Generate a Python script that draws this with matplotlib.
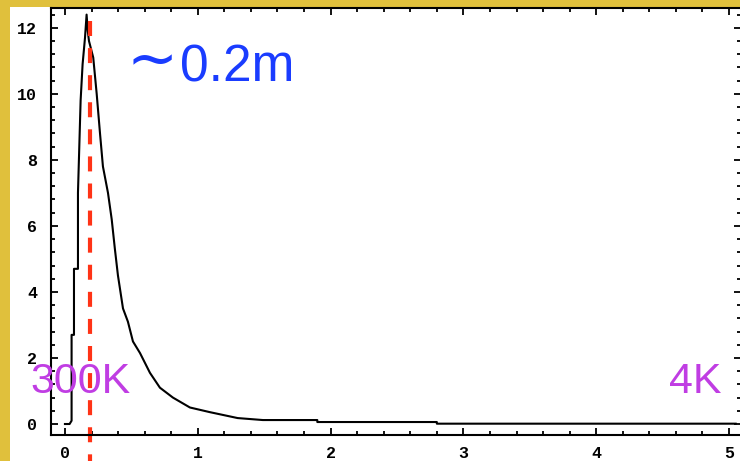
import matplotlib
matplotlib.use("Agg")
import matplotlib.pyplot as plt
from matplotlib.ticker import MultipleLocator

# curve (wavelength vs intensity)
wl = [0.0, 0.035, 0.05, 0.05, 0.068, 0.068, 0.098, 0.098, 0.118, 0.133, 0.151,
      0.163, 0.172, 0.181, 0.213, 0.239, 0.264, 0.286, 0.324, 0.352, 0.376,
      0.399, 0.437, 0.474, 0.512, 0.565, 0.640, 0.715, 0.813, 0.941, 1.09,
      1.30, 1.49, 1.90, 1.90, 2.80, 2.80, 5.05]
intensity = [0.0, 0.0, 0.1, 2.7, 2.7, 4.7, 4.7, 7.0, 9.8, 10.9, 11.7,
             12.4, 11.9, 11.6, 11.1, 10.0, 8.8, 7.8, 7.0, 6.2, 5.3,
             4.5, 3.5, 3.1, 2.5, 2.15, 1.55, 1.1, 0.8, 0.5, 0.36,
             0.18, 0.12, 0.12, 0.06, 0.06, 0.01, 0.01]
peak_x = 0.19
tilde = "\u223c"
peak_label = "0.2m"
left_label = "300K"
right_label = "4K"
xticks = [0, 1, 2, 3, 4, 5]
yticks = [0, 2, 4, 6, 8, 10, 12]

W, H = 740, 461
gold = "#e0c03c"
fig = plt.figure(figsize=(W / 100, H / 100), dpi=100, facecolor="white")
# gold frame strips on the left and top
fig.patches.append(plt.Rectangle((0, 0), 10 / W, 1, transform=fig.transFigure,
                                 facecolor=gold, edgecolor="none", zorder=-1))
fig.patches.append(plt.Rectangle((0, 1 - 7 / H), 1, 7 / H, transform=fig.transFigure,
                                 facecolor=gold, edgecolor="none", zorder=-1))

ax = fig.add_axes([51 / W, (H - 435) / H, 690 / W, 427 / H])
ax.set_facecolor("white")
ax.set_xlim(-0.105, 5.09)
ax.set_ylim(-0.333, 12.6)

ax.plot(wl, intensity, color="black", lw=1.5)
ax.plot([peak_x, peak_x], [12.2, -2], color="#ff3316", lw=3,
        dashes=(3.6, 2.9), clip_on=False)

blue = "#1a3cff"
purple = "#c03de3"
ax.text(152 / W, 1 - 62.5 / H, tilde, transform=fig.transFigure, color=blue,
        fontsize=44, fontfamily="DejaVu Sans", ha="center", va="center")
ax.text(180 / W, 1 - 82 / H, peak_label, transform=fig.transFigure, color=blue,
        fontsize=37, fontfamily="Liberation Sans", ha="left", va="baseline")
ax.text(30 / W, 1 - 393 / H, left_label, transform=fig.transFigure, color=purple,
        fontsize=31, fontfamily="Liberation Sans", ha="left", va="baseline")
ax.text(722 / W, 1 - 393 / H, right_label, transform=fig.transFigure, color=purple,
        fontsize=31, fontfamily="Liberation Sans", ha="right", va="baseline")

ax.set_xticks(xticks)
ax.set_yticks(yticks)
ax.xaxis.set_minor_locator(MultipleLocator(0.2))
ax.yaxis.set_minor_locator(MultipleLocator(0.4))
ax.tick_params(which="both", direction="in", top=True, right=True,
               color="black", width=1.3)
ax.tick_params(which="major", length=5)
ax.tick_params(which="minor", length=3)
ax.tick_params(axis="x", pad=8)
ax.tick_params(axis="y", pad=10)
for lab in ax.get_xticklabels() + ax.get_yticklabels():
    lab.set_fontfamily("Liberation Mono")
    lab.set_fontsize(12)
    lab.set_fontweight("bold")
for s in ax.spines.values():
    s.set_linewidth(1.5)

fig.savefig("out.png", dpi=100, facecolor=fig.get_facecolor())
